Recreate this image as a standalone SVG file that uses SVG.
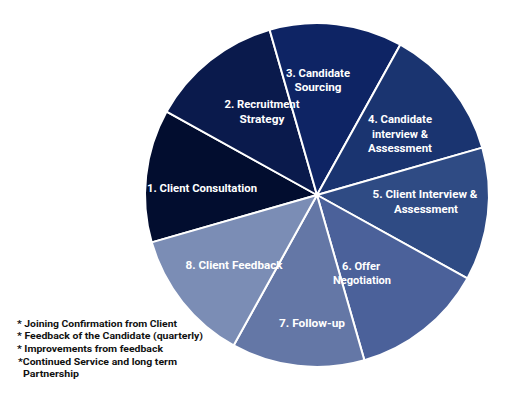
<svg xmlns="http://www.w3.org/2000/svg" width="510" height="400" viewBox="0 0 510 400">
<style>
.seg{stroke:#ffffff;stroke-width:2;stroke-linejoin:round}
.lbl{font-family:Roboto,"Liberation Sans",sans-serif;font-weight:bold;font-size:11px;fill:#ffffff;text-anchor:middle}
.note{font-family:Roboto,"Liberation Sans",sans-serif;font-weight:bold;font-size:9.5px;fill:#111111}
</style>
<rect width="510" height="400" fill="#ffffff"/>
<g id="segments">
<g id="s1"><path class="seg" fill="#020d2f" d="M317 195 L151.7 242.4 A172 172 0 0 1 166.6 111.6 Z"/><text class="lbl" x="202" y="192" textLength="110" lengthAdjust="spacingAndGlyphs">1. Client Consultation</text></g>
<g id="s2"><path class="seg" fill="#0a1a4c" d="M317 195 L166.6 111.6 A172 172 0 0 1 269.6 29.7 Z"/></g>
<g id="s3"><path class="seg" fill="#0e2464" d="M317 195 L269.6 29.7 A172 172 0 0 1 400.4 44.6 Z"/><text class="lbl" x="318" y="77" textLength="64" lengthAdjust="spacingAndGlyphs">3. Candidate</text><text class="lbl" x="318" y="91" textLength="47" lengthAdjust="spacingAndGlyphs">Sourcing</text></g>
<g id="s4"><path class="seg" fill="#1a3470" d="M317 195 L400.4 44.6 A172 172 0 0 1 482.3 147.6 Z"/><text class="lbl" x="400" y="123" textLength="64" lengthAdjust="spacingAndGlyphs">4. Candidate</text><text class="lbl" x="400" y="138" textLength="56" lengthAdjust="spacingAndGlyphs">interview &amp;</text><text class="lbl" x="400" y="152" textLength="64" lengthAdjust="spacingAndGlyphs">Assessment</text></g>
<g id="s5"><path class="seg" fill="#2f4b84" d="M317 195 L482.3 147.6 A172 172 0 0 1 467.4 278.4 Z"/><text class="lbl" x="425" y="198" textLength="105" lengthAdjust="spacingAndGlyphs">5. Client Interview &amp;</text><text class="lbl" x="426" y="213" textLength="64" lengthAdjust="spacingAndGlyphs">Assessment</text></g>
<g id="s6"><path class="seg" fill="#4b619a" d="M317 195 L467.4 278.4 A172 172 0 0 1 364.4 360.3 Z"/></g>
<g id="s7"><path class="seg" fill="#6477a6" d="M317 195 L364.4 360.3 A172 172 0 0 1 233.6 345.4 Z"/><text class="lbl" x="312" y="327" textLength="66" lengthAdjust="spacingAndGlyphs">7. Follow-up</text></g>
<g id="s8"><path class="seg" fill="#7b8db5" d="M317 195 L233.6 345.4 A172 172 0 0 1 151.7 242.4 Z"/></g>
</g>
<g id="labels-over">
<text class="lbl" x="262" y="108" textLength="75" lengthAdjust="spacingAndGlyphs">2. Recruitment</text>
<text class="lbl" x="262" y="123" textLength="45" lengthAdjust="spacingAndGlyphs">Strategy</text>
<text class="lbl" x="234" y="269" textLength="97" lengthAdjust="spacingAndGlyphs">8. Client Feedback</text>
<text class="lbl" x="361" y="270" textLength="38" lengthAdjust="spacingAndGlyphs">6. Offer</text>
<text class="lbl" x="362" y="284" textLength="58" lengthAdjust="spacingAndGlyphs">Negotiation</text>
</g>
<g id="notes">
<text class="note" x="17" y="327" textLength="160" lengthAdjust="spacingAndGlyphs">* Joining Confirmation from Client</text>
<text class="note" x="17" y="339" textLength="186" lengthAdjust="spacingAndGlyphs">* Feedback of the Candidate (quarterly)</text>
<text class="note" x="17" y="352" textLength="146" lengthAdjust="spacingAndGlyphs">* Improvements from feedback</text>
<text class="note" x="18" y="365" textLength="159" lengthAdjust="spacingAndGlyphs">*Continued Service and long term</text>
<text class="note" x="23" y="377" textLength="56" lengthAdjust="spacingAndGlyphs">Partnership</text>
</g>
</svg>
